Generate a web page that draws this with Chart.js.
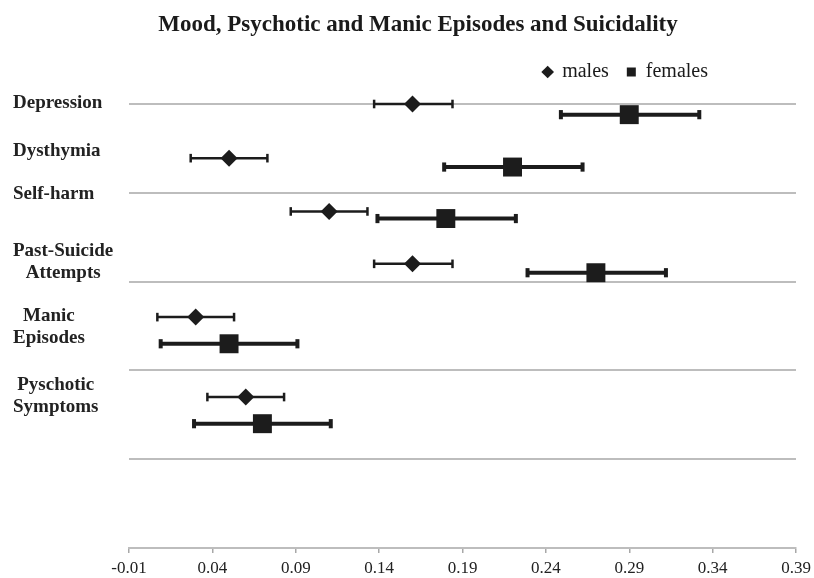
<!DOCTYPE html>
<html>
<head>
<meta charset="utf-8">
<script src="https://cdn.jsdelivr.net/npm/chart.js@4/dist/chart.umd.min.js"></script>
<style>
  html, body { margin: 0; padding: 0; background: #ffffff; }
  #wrap { width: 814px; height: 578px; position: relative; }
</style>
</head>
<body>
<div id="wrap"><canvas id="c"></canvas></div>
<script>
// ---- data ----
const categories = [['Depression'], ['Dysthymia'], ['Self-harm'], ['Past-Suicide', 'Attempts'], ['Manic', 'Episodes'], ['Pyschotic', 'Symptoms']];
const seriesNames = ['males', 'females'];

const malesX    = [0.16, 0.05, 0.11, 0.16, 0.03, 0.06];
const malesY    = [5.00, 4.39, 3.79, 3.20, 2.60, 1.70];
const malesLow  = [0.137, 0.027, 0.087, 0.137, 0.007, 0.037];
const malesHigh = [0.184, 0.073, 0.133, 0.184, 0.053, 0.083];

const femalesX    = [0.29, 0.22, 0.18, 0.27, 0.05, 0.07];
const femalesY    = [4.88, 4.29, 3.71, 3.10, 2.30, 1.40];
const femalesLow  = [0.249, 0.179, 0.139, 0.229, 0.009, 0.029];
const femalesHigh = [0.332, 0.262, 0.222, 0.312, 0.091, 0.111];

const xTickMin = -0.01, xTickMax = 0.39, xTickStep = 0.05;
const categoryLabelAnchors = [5.01, 4.47, 3.99, 3.22, 2.49, 1.71];

// ---- styling ----
const INK = '#1c1c1c';
const GRID = '#bdbdbd';
const SERIF = "'Liberation Serif', 'Times New Roman', serif";

function pts(xs, ys) { return xs.map((x, i) => ({ x: x, y: ys[i] })); }

function errorBars(low, high, ys, width, cap) {
  return ys.map((y, i) => ({
    label: 'err',
    data: [{ x: low[i], y: y }, { x: high[i], y: y }],
    showLine: true,
    borderColor: INK,
    borderWidth: width,
    borderCapStyle: 'butt',
    pointStyle: 'line',
    pointRotation: 90,
    pointRadius: cap,
    pointHoverRadius: cap,
    pointBorderWidth: width,
    pointBorderColor: INK,
    pointBackgroundColor: INK,
    order: 2,
    clip: false
  }));
}

const datasets = [
  {
    label: seriesNames[0],
    data: pts(malesX, malesY),
    pointStyle: 'rectRot',
    pointRadius: 8.5,
    pointHoverRadius: 8.5,
    backgroundColor: INK,
    borderColor: INK,
    borderWidth: 0,
    order: 0,
    clip: false
  },
  {
    label: seriesNames[1],
    data: pts(femalesX, femalesY),
    pointStyle: 'rect',
    pointRadius: 13.4,
    pointHoverRadius: 13.4,
    backgroundColor: INK,
    borderColor: INK,
    borderWidth: 0,
    order: 0,
    clip: false
  }
].concat(errorBars(malesLow, malesHigh, malesY, 2.5, 4.3))
 .concat(errorBars(femalesLow, femalesHigh, femalesY, 4, 4.6));

const LEGEND_RIGHT = 708;
const TITLE_CENTER = 418;

const boxShift = {
  id: 'boxShift',
  afterLayout(chart) {
    const lg = chart.legend;
    if (lg) lg.right = LEGEND_RIGHT + lg.options.labels.padding;
    const tb = chart.titleBlock;
    if (tb) { tb.left = 0; tb.right = 2 * TITLE_CENTER; }
  }
};

const categoryLabels = {
  id: 'categoryLabels',
  afterDraw(chart) {
    const ctx = chart.ctx;
    const ys = chart.scales.y;
    const left = 13, lineH = 21.5;
    ctx.save();
    ctx.font = 'bold 19px ' + SERIF;
    ctx.fillStyle = '#222222';
    ctx.textBaseline = 'middle';
    categories.forEach((lines, i) => {
      const cy = ys.getPixelForValue(categoryLabelAnchors[i]);
      const widest = Math.max.apply(null, lines.map(l => ctx.measureText(l).width));
      const y0 = cy - (lines.length - 1) * lineH / 2;
      if (lines.length === 1) {
        ctx.textAlign = 'left';
        ctx.fillText(lines[0], left, y0);
      } else {
        ctx.textAlign = 'center';
        lines.forEach((l, k) => ctx.fillText(l, left + widest / 2, y0 + k * lineH));
      }
    });
    ctx.restore();
  }
};

new Chart(document.getElementById('c'), {
  type: 'scatter',
  data: { datasets: datasets },
  options: {
    responsive: true,
    maintainAspectRatio: false,
    animation: false,
    layout: { padding: { left: 129, right: 18, top: 0, bottom: -6 } },
    plugins: {
      tooltip: { enabled: false },
      title: {
        display: true,
        text: 'Mood, Psychotic and Manic Episodes and Suicidality',
        color: '#1a1a1a',
        font: { family: SERIF, size: 23, weight: 'bold' },
        padding: { top: 11, bottom: 5.4 }
      },
      legend: {
        display: true,
        position: 'top',
        align: 'end',
        labels: {
          usePointStyle: true,
          boxWidth: 9,
          boxHeight: 9,
          padding: 18,
          color: '#1a1a1a',
          font: { family: SERIF, size: 20 },
          filter: (item) => item.datasetIndex < 2
        }
      }
    },
    scales: {
      x: {
        type: 'linear',
        min: xTickMin,
        max: xTickMax,
        ticks: {
          stepSize: xTickStep,
          color: '#222222',
          padding: 3,
          font: { family: SERIF, size: 17, lineHeight: 1.47 },
          callback: (v) => Number(v).toFixed(2)
        },
        grid: { display: true, drawOnChartArea: false, drawTicks: true, tickLength: 5, color: '#a8a8a8', lineWidth: 1.5 },
        border: { display: true, color: GRID, width: 2 }
      },
      x2: {
        type: 'linear',
        position: 'top',
        min: xTickMin,
        max: xTickMax,
        ticks: { display: false },
        grid: { display: true, drawOnChartArea: false, drawTicks: true, tickLength: 12, color: 'rgba(0,0,0,0)' },
        border: { display: false }
      },
      y: {
        type: 'linear',
        min: 0,
        max: 5,
        ticks: { display: false, stepSize: 1 },
        grid: { color: GRID, lineWidth: 2, drawTicks: false },
        border: { display: false }
      }
    }
  },
  plugins: [boxShift, categoryLabels]
});
</script>
</body>
</html>
